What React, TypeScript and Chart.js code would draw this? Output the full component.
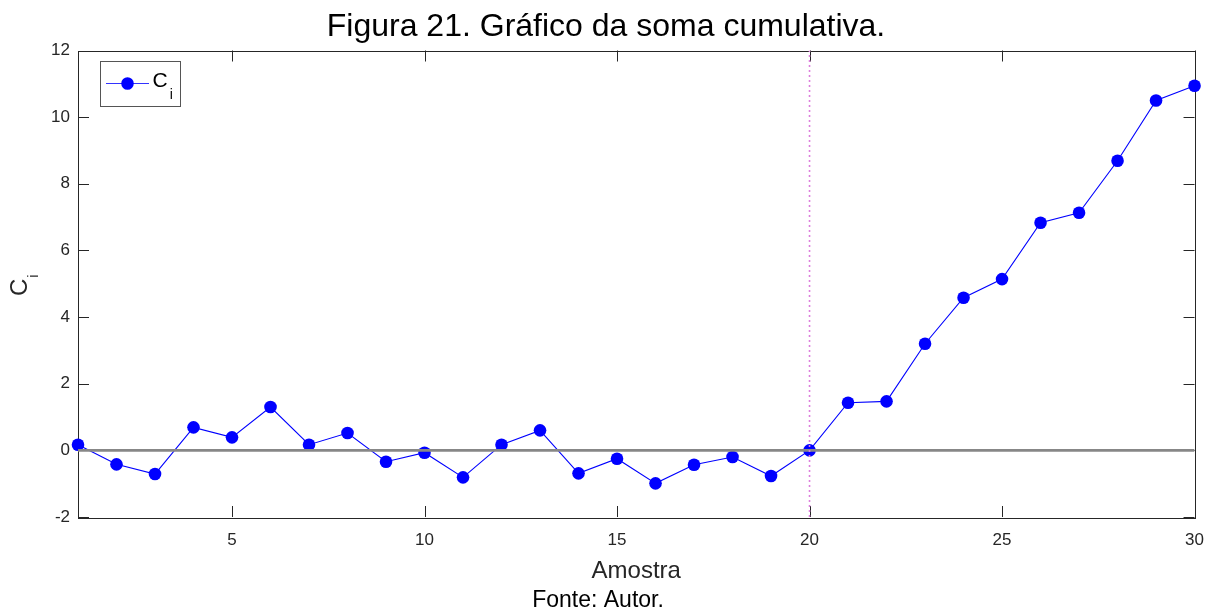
import React, { useEffect, useRef } from "react";
import { Chart, registerables } from "chart.js";

Chart.register(...registerables);

const samples = [1, 2, 3, 4, 5, 6, 7, 8, 9, 10, 11, 12, 13, 14, 15, 16, 17, 18, 19, 20, 21, 22, 23, 24, 25, 26, 27, 28, 29, 30];
const ciValues = [0.17, -0.42, -0.71, 0.69, 0.39, 1.3, 0.17, 0.52, -0.34, -0.07, -0.81, 0.17, 0.6, -0.69, -0.25, -0.99, -0.43, -0.2, -0.77, 0.0, 1.43, 1.47, 3.2, 4.58, 5.14, 6.83, 7.13, 8.69, 10.5, 10.94];
const xTickValues = [5, 10, 15, 20, 25, 30];
const yTickValues = [-2, 0, 2, 4, 6, 8, 10, 12];
const zeroLine = [{ x: 1, y: 0 }, { x: 30, y: 0 }];
const changePoint = [{ x: 20, y: -2 }, { x: 20, y: 12 }];
const titleText = "Figura 21. Gráfico da soma cumulativa.";
const sourceText = "Fonte: Autor.";

const FONT = "'Liberation Sans', Arial, Helvetica, sans-serif";
const AXIS_COLOR = "#262626";

const framePlugin = {
  id: "frame",
  beforeDatasetsDraw(chart: any) {
    const { ctx, chartArea } = chart;
    const { left, right, top, bottom } = chartArea;
    const xs = chart.scales.x;
    const ys = chart.scales.y;
    ctx.save();
    ctx.strokeStyle = AXIS_COLOR;
    ctx.lineWidth = 1;
    ctx.strokeRect(Math.round(left) + 0.5, Math.round(top) + 0.5, Math.round(right - left), Math.round(bottom - top));
    const tl = 11;
    ctx.beginPath();
    xs.ticks.forEach((t: any) => {
      const px = Math.round(xs.getPixelForValue(t.value)) + 0.5;
      ctx.moveTo(px, bottom);
      ctx.lineTo(px, bottom - tl);
      ctx.moveTo(px, top);
      ctx.lineTo(px, top + tl);
    });
    ys.ticks.forEach((t: any) => {
      const py = Math.round(ys.getPixelForValue(t.value)) + 0.5;
      ctx.moveTo(left, py);
      ctx.lineTo(left + tl, py);
      ctx.moveTo(right, py);
      ctx.lineTo(right - tl, py);
    });
    ctx.stroke();

    // title and source
    ctx.fillStyle = "#000000";
    ctx.textBaseline = "alphabetic";
    ctx.textAlign = "center";
    ctx.font = `32px ${FONT}`;
    ctx.fillText(titleText, 606, 36);
    ctx.font = `23px ${FONT}`;
    ctx.fillText(sourceText, 598, 607);

    // y axis title C_i (rotated)
    ctx.fillStyle = AXIS_COLOR;
    ctx.translate(27, 296);
    ctx.rotate(-Math.PI / 2);
    ctx.textAlign = "left";
    ctx.font = `24px ${FONT}`;
    ctx.fillText("C", 0, 0);
    const w = ctx.measureText("C").width;
    ctx.font = `15px ${FONT}`;
    ctx.fillText("i", w + 1, 11);
    ctx.restore();
  },
  afterDatasetsDraw(chart: any) {
    const { ctx } = chart;
    ctx.save();
    // legend box
    ctx.fillStyle = "#ffffff";
    ctx.fillRect(100.5, 61.5, 80, 45);
    ctx.strokeStyle = "#555555";
    ctx.lineWidth = 1;
    ctx.strokeRect(100.5, 61.5, 80, 45);
    ctx.strokeStyle = "#3333ff";
    ctx.beginPath();
    ctx.moveTo(106, 83.5);
    ctx.lineTo(149, 83.5);
    ctx.stroke();
    ctx.fillStyle = "#0000ff";
    ctx.beginPath();
    ctx.arc(127.5, 83.5, 6.3, 0, Math.PI * 2);
    ctx.fill();
    ctx.fillStyle = "#000000";
    ctx.textBaseline = "alphabetic";
    ctx.textAlign = "left";
    ctx.font = `21px ${FONT}`;
    ctx.fillText("C", 152.5, 87);
    const w = ctx.measureText("C").width;
    ctx.font = `14px ${FONT}`;
    ctx.fillText("i", 152.5 + w + 2, 99);
    ctx.restore();
  },
};

export default function App() {
  const ref = useRef<HTMLCanvasElement | null>(null);
  useEffect(() => {
    document.body.style.margin = "0";
    const canvas = ref.current;
    if (!canvas) return;
    const chart = new Chart(canvas, {
      type: "line",
      data: {
        datasets: [
          {
            label: "Ci",
            data: samples.map((s, i) => ({ x: s, y: ciValues[i] })),
            borderColor: "#0000ff",
            backgroundColor: "#0000ff",
            borderWidth: 1.1,
            pointRadius: 6.3,
            pointHoverRadius: 6.3,
            pointBorderWidth: 0,
            pointBackgroundColor: "#0000ff",
            clip: false,
            order: 3,
          } as any,
          {
            label: "zero",
            data: zeroLine,
            borderColor: "#878787",
            borderWidth: 2.6,
            pointRadius: 0,
            order: 2,
          },
          {
            label: "change",
            data: changePoint,
            borderColor: "#dd7fdd",
            borderWidth: 1.6,
            borderDash: [2, 3],
            pointRadius: 0,
            order: 1,
          },
        ],
      },
      options: {
        animation: false,
        responsive: false,
        maintainAspectRatio: false,
        layout: { padding: { left: 0, right: 20, top: 50.5, bottom: 26.2 } },
        plugins: {
          legend: { display: false },
          tooltip: { enabled: false },
          title: { display: false },
        },
        scales: {
          x: {
            type: "linear",
            min: 1,
            max: 30,
            afterBuildTicks: (scale: any) => {
              scale.ticks = xTickValues.map((v) => ({ value: v }));
            },
            afterFit: (scale: any) => {
              scale.height = 68.8;
            },
            grid: { display: false, drawTicks: false },
            border: { display: false },
            ticks: {
              color: AXIS_COLOR,
              font: { family: FONT, size: 17 },
              padding: 13,
              maxRotation: 0,
            },
            title: {
              display: true,
              text: "Amostra",
              color: AXIS_COLOR,
              font: { family: FONT, size: 24, lineHeight: 1.2 },
              padding: { top: 0, bottom: 0 },
            },
          },
          y: {
            type: "linear",
            min: -2,
            max: 12,
            afterBuildTicks: (scale: any) => {
              scale.ticks = yTickValues.map((v) => ({ value: v }));
            },
            afterFit: (scale: any) => {
              scale.width = 78;
            },
            grid: { display: false, drawTicks: false },
            border: { display: false },
            ticks: {
              color: AXIS_COLOR,
              font: { family: FONT, size: 17 },
              padding: 8,
            },
          },
        },
      },
      plugins: [framePlugin],
    });
    return () => chart.destroy();
  }, []);
  return (
    <div style={{ position: "fixed", left: 0, top: 0, width: 1217, height: 612, background: "#ffffff" }}>
      <canvas ref={ref} width={1217} height={612} style={{ width: 1217, height: 612, display: "block" }} />
    </div>
  );
}
